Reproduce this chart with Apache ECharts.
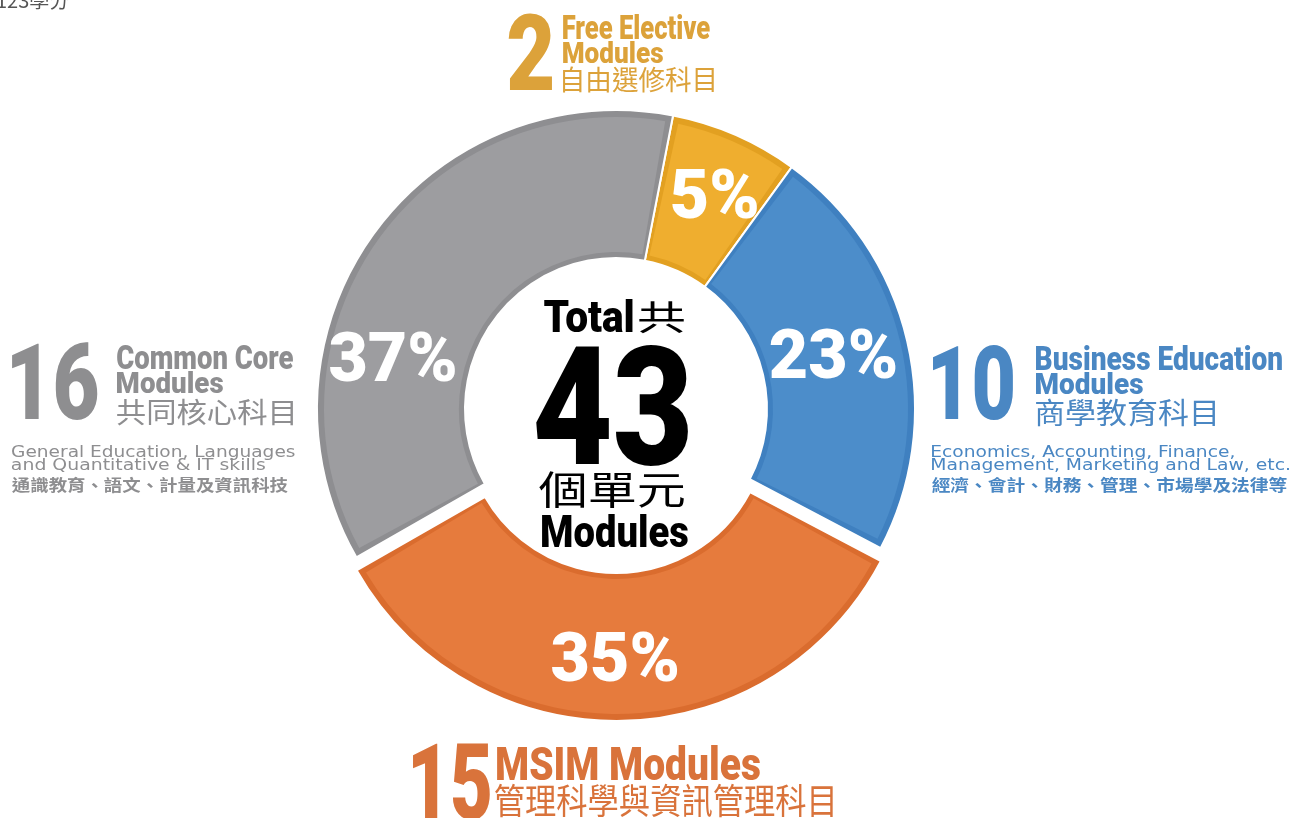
<!DOCTYPE html>
<html>
<head>
<meta charset="utf-8">
<script src="https://cdn.jsdelivr.net/npm/echarts@6/dist/echarts.min.js"></script>
<style>
  html, body { margin: 0; padding: 0; background: #ffffff; }
  #chart { width: 1291px; height: 818px; }
</style>
</head>
<body>
<div id="chart"></div>
<script>
// ---- data ----
const categories = ['Free Elective Modules', 'Business Education Modules', 'MSIM Modules', 'Common Core Modules'];
const categoriesZh = ['自由選修科目', '商學教育科目', '管理科學與資訊管理科目', '共同核心科目'];
const moduleCounts = [2, 10, 15, 16];
const commonCoreDescEn = ['General Education, Languages', 'and Quantitative & IT skills'];
const commonCoreDescZh = '通識教育、語文、計量及資訊科技';
const businessDescEn = ['Economics, Accounting, Finance,', 'Management, Marketing and Law, etc.'];
const businessDescZh = '經濟、會計、財務、管理、市場學及法律等';
const creditsNote = '123學分';

// ---- styles ----
const rimColors = ['#e2a021', '#3f80c0', '#da6c2e', '#8e8e91'];
const sliceColors = ['#efae2f', '#4c8dca', '#e67b3d', '#9d9da0'];
const textColors = ['#dca23a', '#4a87c3', '#d9733b', '#8e8e90'];
const BOLD = 'Roboto, "Liberation Sans", sans-serif';
const CJK = '"Noto Sans CJK TC", "Noto Sans CJK SC", sans-serif';
const DESC = '"DejaVu Sans", Verdana, sans-serif';
const labelShift = [[8, 1], [-4, 4], [-5, 15], [-38, 88]];
const MIN_ANGLE = 25;
const PAD = 2.6;

const total = moduleCounts.reduce((a, b) => a + b, 0);

// Fit a text into a glyph box [left, right, top, bottom] (layout only)
const mctx = document.createElement('canvas').getContext('2d');
function fit(text, box, color, family, weight, capRef) {
  const base = 100;
  mctx.font = weight + ' ' + base + 'px ' + family;
  mctx.textBaseline = 'middle';
  mctx.textAlign = 'left';
  const m = mctx.measureText(text);
  const r = capRef ? mctx.measureText(capRef) : m;
  const gh = r.actualBoundingBoxAscent + r.actualBoundingBoxDescent;
  const fs = base * (box[3] - box[2]) / gh;
  const k = fs / base;
  const gw = (m.actualBoundingBoxLeft + m.actualBoundingBoxRight) * k;
  const sx = (box[1] - box[0]) / gw;
  return {
    type: 'text', silent: true, z: 100,
    x: box[0] + sx * m.actualBoundingBoxLeft * k,
    y: box[2] + r.actualBoundingBoxAscent * k,
    scaleX: sx,
    style: {
      text: text, fill: color, fontSize: fs, fontFamily: family,
      fontWeight: weight, align: 'left', verticalAlign: 'middle'
    }
  };
}

const graphics = [
  { type: 'text', silent: true, x: -4, y: 0,
    style: { text: creditsNote, fill: '#555555', fontSize: 20, fontFamily: CJK, verticalAlign: 'middle' } },
  // Free elective (top)
  fit(String(moduleCounts[0]), [508, 552, 14, 90], textColors[0], BOLD, 900),
  fit('Free Elective', [563, 710, 14, 39], textColors[0], BOLD, 900),
  fit('Modules', [563, 663, 41, 63], textColors[0], BOLD, 900),
  fit(categoriesZh[0], [563, 714, 66, 92], textColors[0], CJK, 400),
  // Common core (left)
  fit(String(moduleCounts[3]), [12, 98, 343, 420], textColors[3], BOLD, 900),
  fit('Common Core', [117, 293, 345, 369], textColors[3], BOLD, 900),
  fit('Modules', [117, 223, 371, 393], textColors[3], BOLD, 900),
  fit(categoriesZh[3], [117, 293, 399, 426], textColors[3], CJK, 400),
  fit(commonCoreDescEn[0], [12, 295, 445, 457], textColors[3], DESC, 400, 'H'),
  fit(commonCoreDescEn[1], [12, 265, 458.5, 470], textColors[3], DESC, 400, 'H'),
  fit(commonCoreDescZh, [12, 288, 477, 493], textColors[3], CJK, 700),
  // Business education (right)
  fit(String(moduleCounts[1]), [933, 1013, 345, 420], textColors[1], BOLD, 900),
  fit('Business Education', [1036, 1282, 345, 370], textColors[1], BOLD, 900),
  fit('Modules', [1036, 1143, 372, 394], textColors[1], BOLD, 900),
  fit(categoriesZh[1], [1036, 1215, 399, 427], textColors[1], CJK, 400),
  fit(businessDescEn[0], [932, 1234, 445, 457], textColors[1], DESC, 400, 'H'),
  fit(businessDescEn[1], [932, 1289, 458.5, 470], textColors[1], DESC, 400, 'H'),
  fit(businessDescZh, [932, 1287, 477, 493], textColors[1], CJK, 700),
  // MSIM (bottom)
  fit(String(moduleCounts[2]), [413, 490, 743, 820], textColors[2], BOLD, 900),
  fit('MSIM Modules', [497, 760, 745, 780], textColors[2], BOLD, 900),
  fit(categoriesZh[2], [495, 833, 783, 817], textColors[2], CJK, 400),
  // centre
  fit('Total', [544, 633, 298, 332], '#000000', BOLD, 900),
  fit('共', [639, 684, 301, 333], '#000000', CJK, 400),
  fit(String(total), [535, 688, 346, 466], '#000000', BOLD, 900),
  fit('個單元', [539, 684, 471, 507], '#000000', CJK, 400),
  fit('Modules', [542, 688, 513, 547], '#000000', BOLD, 900)
];

function pieSeries(radius, colors, opts) {
  return Object.assign({
    type: 'pie',
    center: [616, 409],
    radius: radius,
    startAngle: 79,
    clockwise: true,
    minAngle: MIN_ANGLE,
    percentPrecision: 0,
    avoidLabelOverlap: false,
    selectedMode: 'single',
    selectedOffset: 13,
    emphasis: { disabled: true },
    silent: true,
    labelLine: { show: false },
    data: categories.map(function (name, i) {
      return {
        name: name,
        value: moduleCounts[i],
        selected: name === 'MSIM Modules',
        itemStyle: { color: colors[i] }
      };
    })
  }, opts);
}

const chart = echarts.init(document.getElementById('chart'), null, { renderer: 'canvas' });
chart.setOption({
  animation: false,
  backgroundColor: '#ffffff',
  series: [
    // darker rim base
    pieSeries([151, 299], rimColors, {
      z: 1,
      itemStyle: { borderColor: '#ffffff', borderWidth: 2 },
      label: { show: false }
    }),
    // lighter body (same slots, inset by a pad) with labels
    pieSeries([157, 292], sliceColors, {
      z: 2,
      padAngle: PAD,
      minAngle: MIN_ANGLE - PAD,
      itemStyle: { borderWidth: 0 },
      label: {
        show: true,
        position: 'inside',
        formatter: '{d}%',
        color: '#ffffff',
        fontFamily: BOLD,
        fontWeight: 900,
        fontSize: 68
      },
      labelLayout: function (params) {
        const s = labelShift[params.dataIndex];
        return { dx: s[0], dy: s[1] };
      }
    })
  ],
  graphic: graphics
});
</script>
</body>
</html>
